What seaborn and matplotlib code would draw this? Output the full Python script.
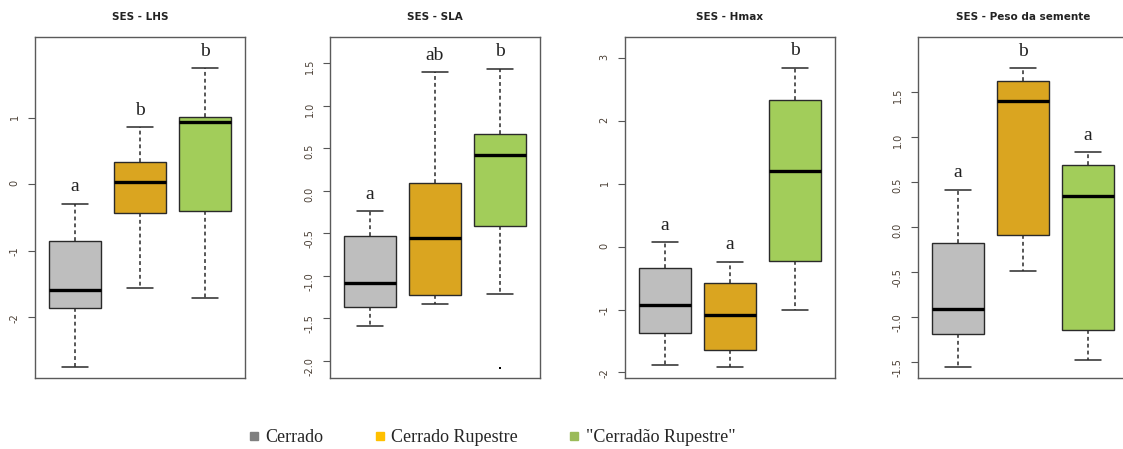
import numpy as np
import pandas as pd
import matplotlib
matplotlib.use("Agg")
import matplotlib.pyplot as plt
import seaborn as sns
from matplotlib.lines import Line2D

# ---------------- data ----------------
groups = ["Cerrado", "Cerrado Rupestre", '"Cerradão Rupestre"']
box_colors = ["#BEBEBE", "#DAA520", "#A2CD5A"]
legend_colors = ["#7F7F7F", "#FFC000", "#9BBB59"]

titles = ["SES - LHS", "SES - SLA", "SES - Hmax", "SES - Peso da semente"]

# five-number summaries per group: [whisker low, Q1, median, Q3, whisker high]
lhs = [[-2.76, -1.86, -1.60, -0.86, -0.29],
       [-1.56, -0.44, 0.03, 0.33, 0.86],
       [-1.72, -0.41, 0.94, 1.01, 1.75]]
sla = [[-1.59, -1.37, -1.09, -0.53, -0.24],
       [-1.33, -1.22, -0.56, 0.09, 1.39],
       [-1.21, -0.42, 0.42, 0.66, 1.43]]
hmax = [[-1.89, -1.37, -0.93, -0.34, 0.07],
        [-1.91, -1.64, -1.09, -0.58, -0.24],
        [-1.00, -0.22, 1.20, 2.34, 2.85]]
peso = [[-1.56, -1.19, -0.91, -0.18, 0.415],
        [-0.49, -0.09, 1.40, 1.62, 1.76],
        [-1.48, -1.15, 0.34, 0.69, 0.83]]

# outliers: (panel index, group, value)
outlier_panel = [1]
outlier_group = ['"Cerradão Rupestre"']
outlier_value = [-2.08]

letters_lhs = ["a", "b", "b"]
letters_sla = ["a", "ab", "b"]
letters_hmax = ["a", "a", "b"]
letters_peso = ["a", "b", "a"]

ticks_lhs = [-2, -1, 0, 1]
ticks_sla = [-2.0, -1.5, -1.0, -0.5, 0.0, 0.5, 1.0, 1.5]
ticks_hmax = [-2, -1, 0, 1, 2, 3]
ticks_peso = [-1.5, -1.0, -0.5, 0.0, 0.5, 1.0, 1.5]
ticklabels_lhs = ["-2", "-1", "0", "1"]
ticklabels_sla = ["-2.0", "-1.5", "-1.0", "-0.5", "0.0", "0.5", "1.0", "1.5"]
ticklabels_hmax = ["-2", "-1", "0", "1", "2", "3"]
ticklabels_peso = ["-1.5", "-1.0", "-0.5", "0.0", "0.5", "1.0", "1.5"]

ylims = [(-2.92, 2.22), (-2.20, 1.805), (-2.09, 3.34), (-1.68, 2.11)]

panels = [lhs, sla, hmax, peso]
letters = [letters_lhs, letters_sla, letters_hmax, letters_peso]
ticks = [ticks_lhs, ticks_sla, ticks_hmax, ticks_peso]
ticklabels = [ticklabels_lhs, ticklabels_sla, ticklabels_hmax, ticklabels_peso]

# ---------------- figure ----------------
sns.set_theme(style="white")
plt.rcParams["axes.unicode_minus"] = False
plt.rcParams["font.family"] = ["DejaVu Sans"]

W, H = 1123, 449
fig = plt.figure(figsize=(W / 100, H / 100), dpi=100)
fig.patch.set_facecolor("white")

lefts_px = [35, 330, 625, 918]
ax_w_px, top_px, bot_px = 210, 37, 378

pal = dict(zip(groups, box_colors))

for k, stats in enumerate(panels):
    ax = fig.add_axes([lefts_px[k] / W, 1 - bot_px / H, ax_w_px / W, (bot_px - top_px) / H])
    df = pd.DataFrame([(g, v) for g, s in zip(groups, stats) for v in s],
                      columns=["group", "value"])
    sns.boxplot(data=df, x="group", y="value", hue="group", order=groups,
                hue_order=groups, palette=pal, legend=False, whis=(0, 100),
                width=0.8, linecolor="#2a2a2a", linewidth=1.0, showfliers=False,
                saturation=1, ax=ax,
                medianprops=dict(color="black", linewidth=2.4),
                whiskerprops=dict(linestyle=(0, (2.5, 2)), color="#2a2a2a", linewidth=1.1),
                capprops=dict(color="#2a2a2a", linewidth=1.1))
    # outliers
    od = pd.DataFrame({"group": [g for p, g in zip(outlier_panel, outlier_group) if p == k],
                       "value": [v for p, v in zip(outlier_panel, outlier_value) if p == k]})
    if len(od):
        sns.stripplot(data=od, x="group", y="value", order=groups, jitter=False,
                      color="black", size=1.8, marker="s", linewidth=0, ax=ax)
    # letters
    for i, (s, lab) in enumerate(zip(stats, letters[k])):
        ax.annotate(lab, xy=(i, s[4]), xytext=(0, 9), textcoords="offset points",
                    ha="center", va="baseline", fontsize=14,
                    family="Liberation Serif", color="#222222")
    ax.set_xlim(-0.62, 2.62)
    ax.set_ylim(*ylims[k])
    ax.set_xticks([])
    ax.set_yticks(ticks[k])
    ax.set_yticklabels(ticklabels[k])
    ax.set_xlabel("")
    ax.set_ylabel("")
    ax.tick_params(axis="y", left=True, length=5, width=0.8, color="#555555",
                   labelsize=7, labelcolor="#4a3f35", labelrotation=90, pad=6)
    for sp in ax.spines.values():
        sp.set_visible(True)
        sp.set_color("#5a5a5a")
        sp.set_linewidth(1.0)
    ax.set_title(titles[k], fontsize=7.5, fontweight="bold", pad=12, color="#222222")

handles = [Line2D([], [], marker="s", linestyle="", color=c, markersize=6)
           for c in legend_colors]
fig.legend(handles, groups, loc="center", bbox_to_anchor=(492 / W, 1 - 438 / H),
           ncol=3, frameon=False, prop={"family": "Liberation Serif", "size": 13},
           handlelength=0.6, handletextpad=0.35, columnspacing=2.8)

fig.savefig("out.png", dpi=100, facecolor="white")
